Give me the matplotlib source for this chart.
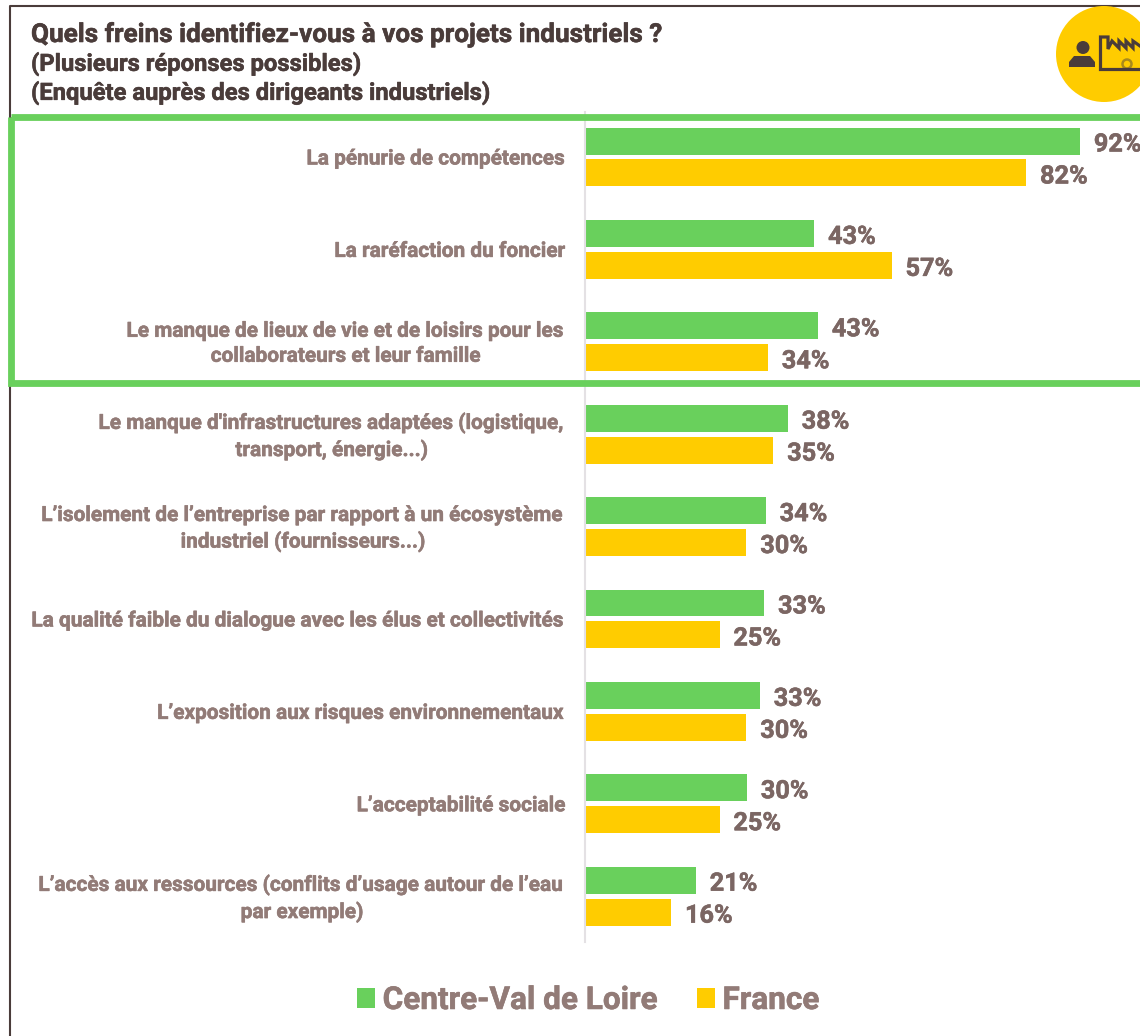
import matplotlib
matplotlib.use('Agg')
import matplotlib.pyplot as plt
import matplotlib.patheffects as pe
from matplotlib.patches import Circle, Rectangle, Polygon
from matplotlib.transforms import ScaledTranslation

plt.rcParams['font.family'] = ['Roboto', 'DejaVu Sans']

categories = [
    "La pénurie de compétences",
    "La raréfaction du foncier",
    "Le manque de lieux de vie et de loisirs pour les\ncollaborateurs et leur famille",
    "Le manque d'infrastructures adaptées (logistique,\ntransport, énergie...)",
    "L’isolement de l’entreprise par rapport à un écosystème\nindustriel (fournisseurs...)",
    "La qualité faible du dialogue avec les élus et collectivités",
    "L’exposition aux risques environnementaux",
    "L’acceptabilité sociale",
    "L’accès aux ressources (conflits d’usage autour de l’eau\npar exemple)",
]
centre_vals = [92, 42.6, 43.3, 37.7, 33.6, 33.3, 32.5, 30.1, 20.6]
france_vals = [82, 57, 34, 35, 30, 25, 30, 25, 16]
centre_labels = ['92%', '43%', '43%', '38%', '34%', '33%', '33%', '30%', '21%']
france_labels = ['82%', '57%', '34%', '35%', '30%', '25%', '30%', '25%', '16%']

VERT = '#69d05c'
JAUNE = '#ffcc00'
BRUN = '#4a3c3a'
TEXTE = '#927b77'
VALEUR = '#7b6663'

W, H = 1140, 1036
fig = plt.figure(figsize=(W / 100, H / 100), dpi=100)


def gras(color, lw=0.4):
    # la police d'origine est plus grasse que Roboto Bold
    return [pe.withStroke(linewidth=lw, foreground=color)]


# calque en pixels pour le cadre, le titre et l'icone
deco = fig.add_axes([0, 0, 1, 1])
deco.set_xlim(0, W)
deco.set_ylim(H, 0)
deco.axis('off')
deco.set_zorder(2)

deco.plot([9.5, 9.5, W], [H, 5.5, 5.5], color=BRUN, lw=1.5, zorder=1)
deco.add_patch(Rectangle((11, 116.5), W, 266, fill=False, ec=VERT, lw=4.9, zorder=3))

deco.text(31, 35, "Quels freins identifiez-vous à vos projets industriels ?",
          fontsize=18.8, fontweight='bold', color=BRUN, va='center', path_effects=gras(BRUN))
deco.text(31, 64, "(Plusieurs réponses possibles)",
          fontsize=17.1, fontweight='bold', color=BRUN, va='center', path_effects=gras(BRUN))
deco.text(31, 93, "(Enquête auprès des dirigeants industriels)",
          fontsize=17.1, fontweight='bold', color=BRUN, va='center', path_effects=gras(BRUN))

# icone
deco.add_patch(Circle((1104, 54), 48, color=JAUNE, lw=0))
deco.add_patch(Circle((1083, 47.5), 6.5, color=BRUN, lw=0))
deco.add_patch(Polygon([(1069, 67), (1069, 62), (1074, 56), (1090, 56), (1095, 62), (1095, 67)],
                       color=BRUN, lw=0))
deco.plot([W, 1100.5, 1100.5, 1108, 1108, 1112, 1119, 1119, 1126, 1126, 1133, 1133, W],
          [69.5, 69.5, 37, 37, 49, 41, 48, 41, 48, 41, 48, 41, 46],
          color=BRUN, lw=2.3, solid_joinstyle='miter')
deco.add_patch(Circle((1127, 64), 4.5, fc='none', ec='#a98a1c', lw=1.8))

# graphique : 5,38 px par point de pourcentage, 92,4 px entre deux groupes
ax = fig.add_axes([585 / W, 1 - 942 / H, (W - 585) / W, (942 - 112) / H])
ax.patch.set_alpha(0)
y = range(len(categories))
bars_c = ax.barh([i - 0.173 for i in y], centre_vals, height=0.292, color=VERT, label='Centre-Val de Loire')
bars_f = ax.barh([i + 0.173 for i in y], france_vals, height=0.292, color=JAUNE, label='France')
ax.set_xlim(0, (W - 585) / 5.38)
ax.set_ylim(8.496, -0.487)

for bars, labels in [(bars_c, centre_labels), (bars_f, france_labels)]:
    for bar, lab in zip(bars, labels):
        ax.annotate(lab, (bar.get_width(), bar.get_y() + bar.get_height() / 2),
                    xytext=(10, -2.5), textcoords='offset points', va='center',
                    fontsize=18.2, fontweight='bold', color=VALEUR,
                    annotation_clip=False, path_effects=gras(VALEUR))

ax.set_yticks(list(y))
ax.set_yticklabels(categories, fontsize=15, fontweight='bold', color=TEXTE,
                   multialignment='center', linespacing=1.4, path_effects=gras(TEXTE))
ax.tick_params(axis='y', length=0, pad=13.5)
# les libelles sur deux lignes sortent un peu bas
for lab in ax.get_yticklabels():
    if '\n' in lab.get_text():
        lab.set_transform(lab.get_transform() + ScaledTranslation(0, 3 / 100, fig.dpi_scale_trans))
ax.xaxis.set_visible(False)
for side in ['top', 'right', 'bottom']:
    ax.spines[side].set_visible(False)
ax.spines['left'].set_color('#e4e1e4')
ax.spines['left'].set_linewidth(1.5)

leg = fig.legend(handles=[bars_c, bars_f], loc='center', bbox_to_anchor=(588 / W, 1 - 1000 / H),
                 ncol=2, frameon=False, labelcolor=TEXTE,
                 prop={'size': 22.7, 'weight': 'bold'},
                 handlelength=0.57, handleheight=0.57, handletextpad=0.25, columnspacing=1.23)
for t in leg.get_texts():
    t.set_path_effects(gras(TEXTE))

fig.savefig('out.png', dpi=100)
